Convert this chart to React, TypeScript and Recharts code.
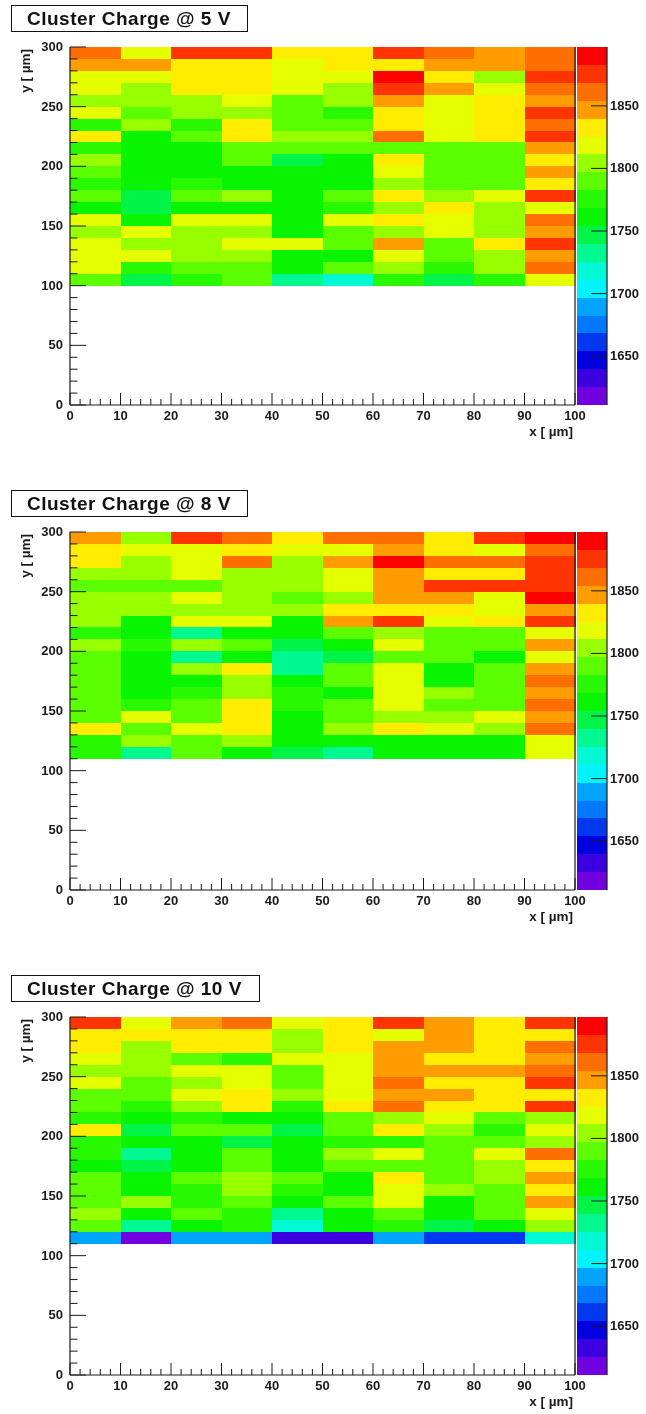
import React from "react";
import { BarChart, Bar, XAxis, YAxis, Cell, ReferenceLine } from "recharts";

const xBins = [5, 15, 25, 35, 45, 55, 65, 75, 85, 95];
const xTicks = [0,2,4,6,8,10,12,14,16,18,20,22,24,26,28,30,32,34,36,38,40,42,44,46,48,50,52,54,56,58,60,62,64,66,68,70,72,74,76,78,80,82,84,86,88,90,92,94,96,98,100];
const yTicks = [0,10,20,30,40,50,60,70,80,90,100,110,120,130,140,150,160,170,180,190,200,210,220,230,240,250,260,270,280,290,300];
const zTicks = [1650, 1700, 1750, 1800, 1850];
const zEdges = [1611,1625.3,1639.6,1653.9,1668.2,1682.5,1696.8,1711.1,1725.4,1739.7,1754,1768.3,1782.6,1796.9,1811.2,1825.5,1839.8,1854.1,1868.4,1882.7,1897];
const zColors = ["#7000e0","#3c00e0","#0000e0","#0038f0","#0078ff","#00a4ff","#00f4ff","#00f8d4","#00f890","#00f448","#08f400","#28f800","#5cff00","#98ff00","#e6ff00","#ffec00","#ff9c00","#ff6e00","#ff3400","#ff0000"];

// rows run from the top of the plot (y = 300) downwards
const charge5V = [
  [1861,1819,1875,1875,1833,1833,1875,1861,1847,1861],
  [1847,1847,1833,1833,1819,1833,1833,1847,1847,1861],
  [1819,1819,1833,1833,1819,1819,1890,1833,1804,1875],
  [1819,1804,1833,1833,1819,1804,1875,1847,1819,1861],
  [1804,1804,1804,1819,1790,1804,1847,1819,1833,1847],
  [1819,1790,1804,1804,1790,1776,1833,1819,1833,1875],
  [1776,1804,1776,1833,1790,1790,1833,1819,1833,1861],
  [1833,1761,1790,1833,1804,1804,1861,1819,1833,1875],
  [1776,1761,1761,1790,1790,1790,1790,1790,1790,1847],
  [1804,1761,1761,1790,1747,1761,1833,1790,1790,1833],
  [1790,1761,1761,1761,1761,1761,1819,1790,1790,1847],
  [1776,1761,1776,1761,1761,1761,1804,1790,1790,1833],
  [1790,1747,1790,1804,1761,1790,1833,1804,1819,1875],
  [1761,1747,1761,1761,1761,1776,1804,1833,1804,1819],
  [1819,1761,1819,1819,1761,1819,1833,1819,1804,1861],
  [1804,1819,1804,1804,1761,1790,1804,1819,1804,1847],
  [1819,1804,1804,1819,1819,1790,1847,1790,1833,1875],
  [1819,1819,1804,1804,1761,1761,1819,1790,1804,1847],
  [1819,1776,1790,1790,1761,1790,1804,1776,1804,1861],
  [1790,1747,1776,1790,1733,1718,1776,1747,1776,1819],
];
const charge8V = [
  [1847,1804,1875,1861,1833,1861,1861,1833,1875,1890],
  [1833,1819,1819,1833,1819,1819,1847,1833,1819,1861],
  [1833,1804,1819,1861,1804,1847,1890,1861,1861,1875],
  [1804,1804,1819,1804,1804,1819,1847,1833,1833,1875],
  [1790,1790,1790,1804,1804,1819,1847,1875,1875,1875],
  [1804,1804,1819,1804,1790,1804,1847,1847,1819,1890],
  [1804,1804,1804,1804,1804,1833,1833,1833,1819,1847],
  [1804,1761,1819,1819,1761,1847,1875,1819,1833,1875],
  [1776,1761,1733,1761,1761,1790,1804,1790,1790,1819],
  [1804,1776,1804,1790,1747,1761,1819,1790,1790,1847],
  [1790,1761,1733,1761,1733,1747,1790,1790,1761,1819],
  [1790,1761,1804,1826,1733,1790,1819,1761,1790,1847],
  [1790,1761,1761,1804,1761,1790,1819,1761,1790,1861],
  [1790,1761,1776,1804,1776,1761,1819,1804,1790,1847],
  [1790,1776,1790,1833,1776,1790,1819,1790,1790,1861],
  [1790,1819,1790,1833,1761,1790,1804,1804,1819,1847],
  [1833,1790,1819,1833,1761,1804,1833,1819,1804,1861],
  [1776,1804,1790,1804,1761,1761,1761,1761,1761,1819],
  [1776,1733,1790,1761,1747,1733,1761,1761,1761,1819],
];
const charge10V = [
  [1875,1819,1847,1861,1819,1833,1875,1847,1833,1875],
  [1833,1833,1833,1833,1804,1833,1819,1847,1833,1833],
  [1833,1804,1833,1833,1804,1833,1847,1847,1833,1861],
  [1819,1804,1790,1776,1819,1819,1847,1833,1833,1847],
  [1804,1804,1819,1819,1790,1819,1847,1847,1847,1861],
  [1819,1790,1804,1819,1790,1819,1861,1833,1833,1875],
  [1790,1790,1819,1833,1804,1819,1847,1847,1833,1833],
  [1790,1776,1804,1833,1776,1833,1861,1833,1833,1875],
  [1776,1761,1776,1761,1761,1790,1804,1819,1790,1804],
  [1833,1747,1790,1790,1747,1790,1833,1804,1776,1819],
  [1776,1761,1761,1747,1761,1776,1776,1790,1790,1804],
  [1776,1733,1761,1790,1761,1804,1819,1790,1819,1861],
  [1761,1747,1761,1790,1761,1790,1790,1790,1804,1833],
  [1790,1761,1790,1804,1790,1761,1833,1790,1804,1847],
  [1790,1761,1776,1804,1776,1761,1819,1804,1790,1833],
  [1790,1804,1776,1790,1761,1790,1819,1761,1790,1847],
  [1804,1761,1790,1776,1733,1761,1790,1761,1790,1819],
  [1790,1733,1761,1776,1718,1761,1776,1747,1761,1804],
  [1690,1618,1690,1690,1633,1633,1690,1661,1661,1718],
];

const binHeight = 10;
const ink = "#1a1a1a";
const fontFamily = "'Liberation Sans', Arial, sans-serif";

const colorOf = (v: number) => {
  for (let i = 0; i < zColors.length; i++) if (v < zEdges[i + 1]) return zColors[i];
  return zColors[zColors.length - 1];
};

const XTick = ({ x, y, payload }: any) => {
  const major = payload.value % 10 === 0;
  return (
    <g>
      <line x1={x} x2={x} y1={y} y2={y - (major ? 12 : 6)} stroke={ink} strokeWidth={1} />
      {major && (
        <text x={x} y={y + 15} textAnchor="middle" fontSize={13} fontWeight={700} fontFamily={fontFamily} fill={ink}>
          {payload.value}
        </text>
      )}
    </g>
  );
};

const YTick = ({ x, y, payload }: any) => {
  const major = payload.value % 50 === 0;
  return (
    <g>
      <line x1={x} x2={x + (major ? 16 : 7.5)} y1={y} y2={y} stroke={ink} strokeWidth={1} />
      {major && (
        <text x={x - 7} y={y + 4} textAnchor="end" fontSize={13} fontWeight={700} fontFamily={fontFamily} fill={ink}>
          {payload.value}
        </text>
      )}
    </g>
  );
};

const ZTick = ({ x, y, payload }: any) => (
  <g>
    <line x1={x - 16} x2={x} y1={y} y2={y} stroke={ink} strokeWidth={1} />
    <text x={x + 3} y={y + 4} textAnchor="start" fontSize={13} fontWeight={700} fontFamily={fontFamily} fill={ink}>
      {payload.value}
    </text>
  </g>
);

const axisLine = { stroke: ink, strokeWidth: 1.2 };

function HeatPanel({ top, rows, base, title, boxWidth }: { top: number; rows: number[][]; base: number; title: string; boxWidth: number }) {
  const n = rows.length;
  const table = xBins.map((bin) => {
    const row: Record<string, number> = { bin, base };
    rows.forEach((_, r) => { row["r" + r] = binHeight; });
    return row;
  });
  // bottom row is stacked first
  const stackOrder = rows.map((_, r) => n - 1 - r);
  const plotTop = 42;
  return (
    <div style={{ position: "absolute", left: 0, top, width: 646, height: 440 }}>
      <div
        style={{
          position: "absolute", left: 11, top: 0, width: boxWidth, height: 25, border: "1.2px solid #111",
          boxSizing: "content-box", fontFamily, fontWeight: 700, fontSize: 19, letterSpacing: 0.5, lineHeight: "25px",
          paddingLeft: 15, color: "#111", background: "#fff", whiteSpace: "nowrap",
        }}
      >
        {title}
      </div>
      <div style={{ position: "absolute", left: 0, top: 0 }}>
        <BarChart
          width={646}
          height={440}
          data={table}
          barCategoryGap={0}
          barGap={0}
          margin={{ top: plotTop, left: 30, right: 71, bottom: 10 }}
        >
          <XAxis xAxisId="bins" dataKey="bin" type="category" hide height={0} />
          <Bar xAxisId="bins" dataKey="base" stackId="s" fill="none" isAnimationActive={false} />
          {stackOrder.map((r) => (
            <Bar key={r} xAxisId="bins" dataKey={"r" + r} stackId="s" isAnimationActive={false} shapeRendering="crispEdges">
              {xBins.map((_, c) => (
                <Cell key={c} fill={colorOf(rows[r][c])} />
              ))}
            </Bar>
          ))}
          <XAxis
            xAxisId="ticks"
            dataKey="bin"
            type="number"
            domain={[0, 100]}
            allowDataOverflow
            ticks={xTicks}
            interval={0}
            height={30}
            tickLine={false}
            tickSize={0}
            tickMargin={0}
            axisLine={axisLine}
            tick={<XTick />}
          />
          <YAxis
            type="number"
            domain={[0, 300]}
            ticks={yTicks}
            interval={0}
            width={40}
            tickLine={false}
            tickSize={0}
            tickMargin={0}
            axisLine={axisLine}
            tick={<YTick />}
          />
          <ReferenceLine xAxisId="ticks" x={100} stroke={ink} strokeWidth={1.2} />
          <text x={0} y={0} transform={`translate(30 ${plotTop + 2}) rotate(-90)`} textAnchor="end" fontSize={13.5} fontWeight={700} fontFamily={fontFamily} fill={ink}>
            y [ µm]
          </text>
          <text x={573} y={431} textAnchor="end" fontSize={13.5} fontWeight={700} fontFamily={fontFamily} fill={ink}>
            x [ µm]
          </text>
        </BarChart>
      </div>
      <PaletteBar />
    </div>
  );
}

const paletteRow: Record<string, number> = { name: 0, base: zEdges[0] };
zColors.forEach((_, i) => { paletteRow["z" + i] = zEdges[i + 1] - zEdges[i]; });
const paletteData = [paletteRow];

function PaletteBar() {
  return (
    <div style={{ position: "absolute", left: 577, top: 0 }}>
      <BarChart width={69} height={440} data={paletteData} barCategoryGap={0} margin={{ top: 42, left: 0, right: 0, bottom: 40 }}>
        <XAxis dataKey="name" hide height={0} />
        <Bar dataKey="base" stackId="p" fill="none" isAnimationActive={false} />
        {zColors.map((col, i) => (
          <Bar key={i} dataKey={"z" + i} stackId="p" fill={col} isAnimationActive={false} shapeRendering="crispEdges" />
        ))}
        <YAxis
          orientation="right"
          type="number"
          domain={[zEdges[0], zEdges[zEdges.length - 1]]}
          allowDataOverflow
          ticks={zTicks}
          interval={0}
          width={39}
          tickLine={false}
          tickSize={0}
          tickMargin={0}
          axisLine={axisLine}
          tick={<ZTick />}
        />
      </BarChart>
    </div>
  );
}

export default function App() {
  return (
    <div style={{ position: "absolute", left: 0, top: 0, width: 646, height: 1414, background: "#fff", overflow: "hidden", filter: "blur(0.4px)" }}>
      <HeatPanel top={5} rows={charge5V} base={100} title="Cluster Charge @ 5 V" boxWidth={220} />
      <HeatPanel top={490} rows={charge8V} base={110} title="Cluster Charge @ 8 V" boxWidth={220} />
      <HeatPanel top={975} rows={charge10V} base={110} title="Cluster Charge @ 10 V" boxWidth={232} />
    </div>
  );
}
